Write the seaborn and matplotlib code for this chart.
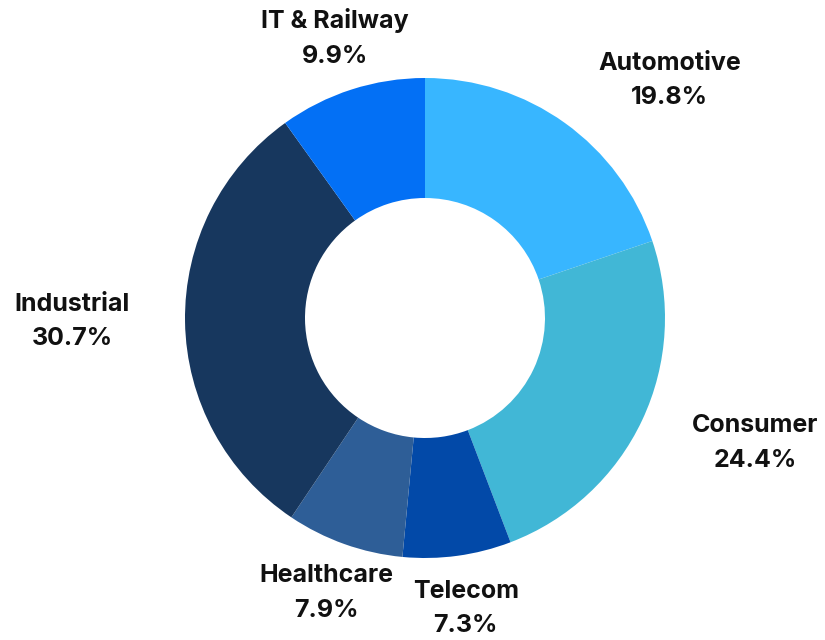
"""
Donut chart of revenue share by segment
"""

import matplotlib
matplotlib.use('Agg')
import matplotlib.pyplot as plt
import seaborn as sns

# segment data, clockwise from the top
segments = ['Automotive', 'Consumer', 'Telecom', 'Healthcare', 'Industrial', 'IT & Railway']
shares = [19.8, 24.4, 7.3, 7.9, 30.7, 9.9]
colors = ['#38B6FF', '#41B7D6', '#0249A8', '#2E5E97', '#17375E', '#0370F5']

# where each label block sits (pie radius = 1)
label_pos = [(1.02, 0.99), (1.375, -0.52), (0.17, -1.21),
             (-0.41, -1.145), (-1.47, -0.015), (-0.375, 1.168)]

sns.set_theme(style='white')
plt.rcParams['font.family'] = ['Inter', 'DejaVu Sans']

fig = plt.figure(figsize=(8.25, 6.4), dpi=100)
ax = fig.add_axes([0, 0, 1, 1])

palette = sns.color_palette(colors)
ax.pie(shares, colors=palette, startangle=90, counterclock=False,
       radius=1, wedgeprops=dict(width=0.5, edgecolor='none', linewidth=0))

for name, val, (x, y) in zip(segments, shares, label_pos):
    ax.text(x, y, f'{name}\n{val:.1f}%', ha='center', va='center',
            fontsize=18, fontweight='bold', color='#111111', linespacing=1.65)

# map one unit of radius to 240 px, centre at (425, 318) px
ax.set_xlim(-425 / 240, 400 / 240)
ax.set_ylim(-(640 - 318) / 240, 318 / 240)
ax.set_aspect('equal')
ax.axis('off')

fig.savefig('out.png', dpi=100)
